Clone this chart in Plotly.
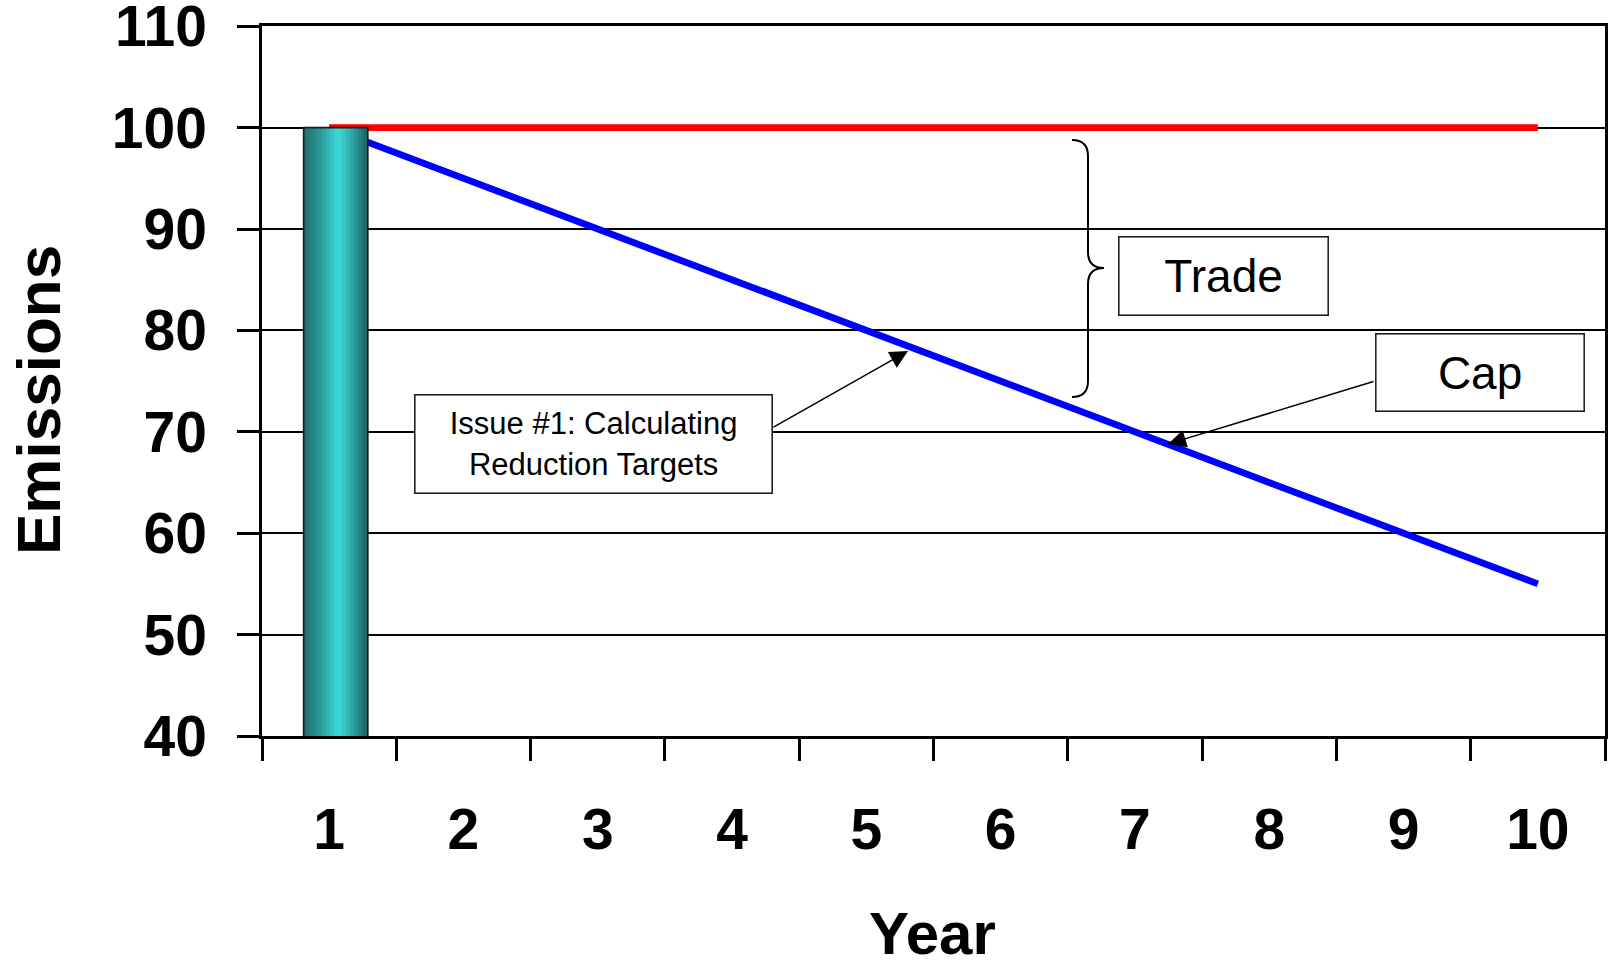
import plotly.graph_objects as go

# ---- data ---------------------------------------------------------------
years = ["1", "2", "3", "4", "5", "6", "7", "8", "9", "10"]
baseline = [100, 100, 100, 100, 100, 100, 100, 100, 100, 100]   # red line
cap = [100, 95, 90, 85, 80, 75, 70, 65, 60, 55]                  # blue line
bar_years = ["1"]
bar_values = [100]
y_ticks = [40, 50, 60, 70, 80, 90, 100, 110]

# ---- page geometry ------------------------------------------------------
W, H = 1608, 969
ML, MR, MT, MB = 262, 3, 26, 233
PW, PH = W - ML - MR, H - MT - MB

def px(x):
    return (x - ML) / PW

def py(y):
    return (H - MB - y) / PH

FONT = "Liberation Sans, Arial, Helvetica, sans-serif"

# horizontal colour profile of the shaded column
stops = [(0.00, (0x1e, 0x6a, 0x6a)), (0.12, (0x25, 0x80, 0x80)),
         (0.30, (0x2c, 0x9f, 0x9f)), (0.45, (0x36, 0xc4, 0xc4)),
         (0.55, (0x3d, 0xd8, 0xd8)), (0.68, (0x36, 0xbd, 0xbd)),
         (0.85, (0x29, 0x8a, 0x8a)), (1.00, (0x1c, 0x5f, 0x5f))]

def shade(u):
    for (u0, c0), (u1, c1) in zip(stops[:-1], stops[1:]):
        if u0 <= u <= u1:
            t = (u - u0) / (u1 - u0)
            r, g, b = (round(a + (b_ - a) * t) for a, b_ in zip(c0, c1))
            return f"rgb({r},{g},{b})"
    return "rgb(30,106,106)"

BAR_LEFT, BAR_W = -0.19, 0.478
N = 48
strip_w = BAR_W / N
offsets = [BAR_LEFT + i * strip_w for i in range(N)]
widths = [strip_w * 1.15 if i < N - 1 else strip_w for i in range(N)]
colors = [shade((i + 0.5) / N) for i in range(N)]

fig = go.Figure()

# lines on the main axes
fig.add_trace(go.Scatter(x=years, y=cap, mode="lines",
                         line=dict(color="#0000ff", width=6.8),
                         hoverinfo="skip", showlegend=False))
fig.add_trace(go.Scatter(x=years, y=baseline, mode="lines",
                         line=dict(color="#ff0000", width=6.8),
                         hoverinfo="skip", showlegend=False))

# shaded column on an overlaid pair of axes so it sits above the lines
fig.add_trace(go.Bar(x=bar_years * N, y=bar_values * N, offset=offsets,
                     width=widths, marker=dict(color=colors, line=dict(width=0)),
                     xaxis="x2", yaxis="y2", hoverinfo="skip", showlegend=False))
fig.add_trace(go.Bar(x=bar_years, y=bar_values, offset=BAR_LEFT, width=BAR_W,
                     marker=dict(color="rgba(0,0,0,0)",
                                 line=dict(color="#1a1a1a", width=1.6)),
                     xaxis="x2", yaxis="y2", hoverinfo="skip", showlegend=False))

tick_font = dict(family=FONT, size=57, color="black", weight="bold")
Y_RANGE = [40, 110.02]

fig.update_layout(
    width=W, height=H,
    margin=dict(l=ML, r=MR, t=MT, b=MB, autoexpand=False),
    paper_bgcolor="white", plot_bgcolor="white",
    barmode="overlay",
    xaxis=dict(type="category", categoryorder="array", categoryarray=years,
               range=[-0.5, 9.5], tickson="boundaries",
               ticks="outside", ticklen=22, tickwidth=2.5, tickcolor="black",
               showline=True, linewidth=2.5, linecolor="black", mirror=True,
               showgrid=False, zeroline=False, tickfont=tick_font,
               ticklabelstandoff=42, automargin=False),
    yaxis=dict(range=Y_RANGE, tickvals=y_ticks,
               ticks="outside", ticklen=22, tickwidth=2.5, tickcolor="black",
               showline=True, linewidth=2.5, linecolor="black", mirror=True,
               showgrid=True, gridcolor="black", gridwidth=2,
               zeroline=False, tickfont=tick_font, ticklabeloverflow="allow",
               ticklabelstandoff=19, automargin=False),
    xaxis2=dict(type="category", categoryorder="array", categoryarray=years,
                range=[-0.5, 9.5], overlaying="x", anchor="y2", visible=False),
    yaxis2=dict(range=Y_RANGE, overlaying="y", anchor="x2", visible=False),
)

# Trade brace
brace_pts = [("M", 1072, 140), ("Q", 1088, 140, 1088, 156), ("L", 1088, 252),
             ("Q", 1088, 268, 1104, 268), ("Q", 1088, 268, 1088, 284),
             ("L", 1088, 381), ("Q", 1088, 397, 1072, 397)]
path = ""
for seg in brace_pts:
    cmd, coords = seg[0], seg[1:]
    pts = " ".join(f"{px(coords[i]):.5f},{py(coords[i + 1]):.5f}"
                   for i in range(0, len(coords), 2))
    path += f"{cmd}{pts} "
fig.add_shape(type="path", path=path.strip(), xref="paper", yref="paper",
              line=dict(color="black", width=2))

def text_box(cx, cy, w, h, text, size):
    fig.add_annotation(x=px(cx), y=py(cy), xref="paper", yref="paper",
                       xanchor="center", yanchor="middle",
                       text=text, showarrow=False, width=w, height=h,
                       align="center", valign="middle",
                       font=dict(family=FONT, size=size, color="black"),
                       bgcolor="white", bordercolor="#222", borderwidth=1.6,
                       borderpad=0)

def arrow(tail, tip):
    fig.add_annotation(x=px(tip[0]), y=py(tip[1]), xref="paper", yref="paper",
                       ax=tail[0] - tip[0], ay=tail[1] - tip[1],
                       axref="pixel", ayref="pixel", text="", showarrow=True,
                       arrowhead=2, arrowsize=2.4, arrowwidth=1.5,
                       arrowcolor="black", standoff=0)

arrow((772, 428), (908, 351))
arrow((1375, 381), (1168, 444))
text_box(1223, 276, 208, 77, "Trade", 46)
text_box(1479.5, 372, 207, 76, "Cap", 46)
text_box(593, 443.5, 356, 97, "Issue #1: Calculating<br>Reduction Targets", 31)

# axis titles
fig.add_annotation(x=px(932), y=py(933), xref="paper", yref="paper",
                   xanchor="center", yanchor="middle",
                   text="Year", showarrow=False,
                   font=dict(family=FONT, size=60, color="black", weight="bold"))
fig.add_annotation(x=px(38), y=py(400), xref="paper", yref="paper",
                   xanchor="center", yanchor="middle",
                   text="Emissions", showarrow=False, textangle=-90,
                   font=dict(family=FONT, size=62, color="black", weight="bold"))

fig.write_html("out.html")
